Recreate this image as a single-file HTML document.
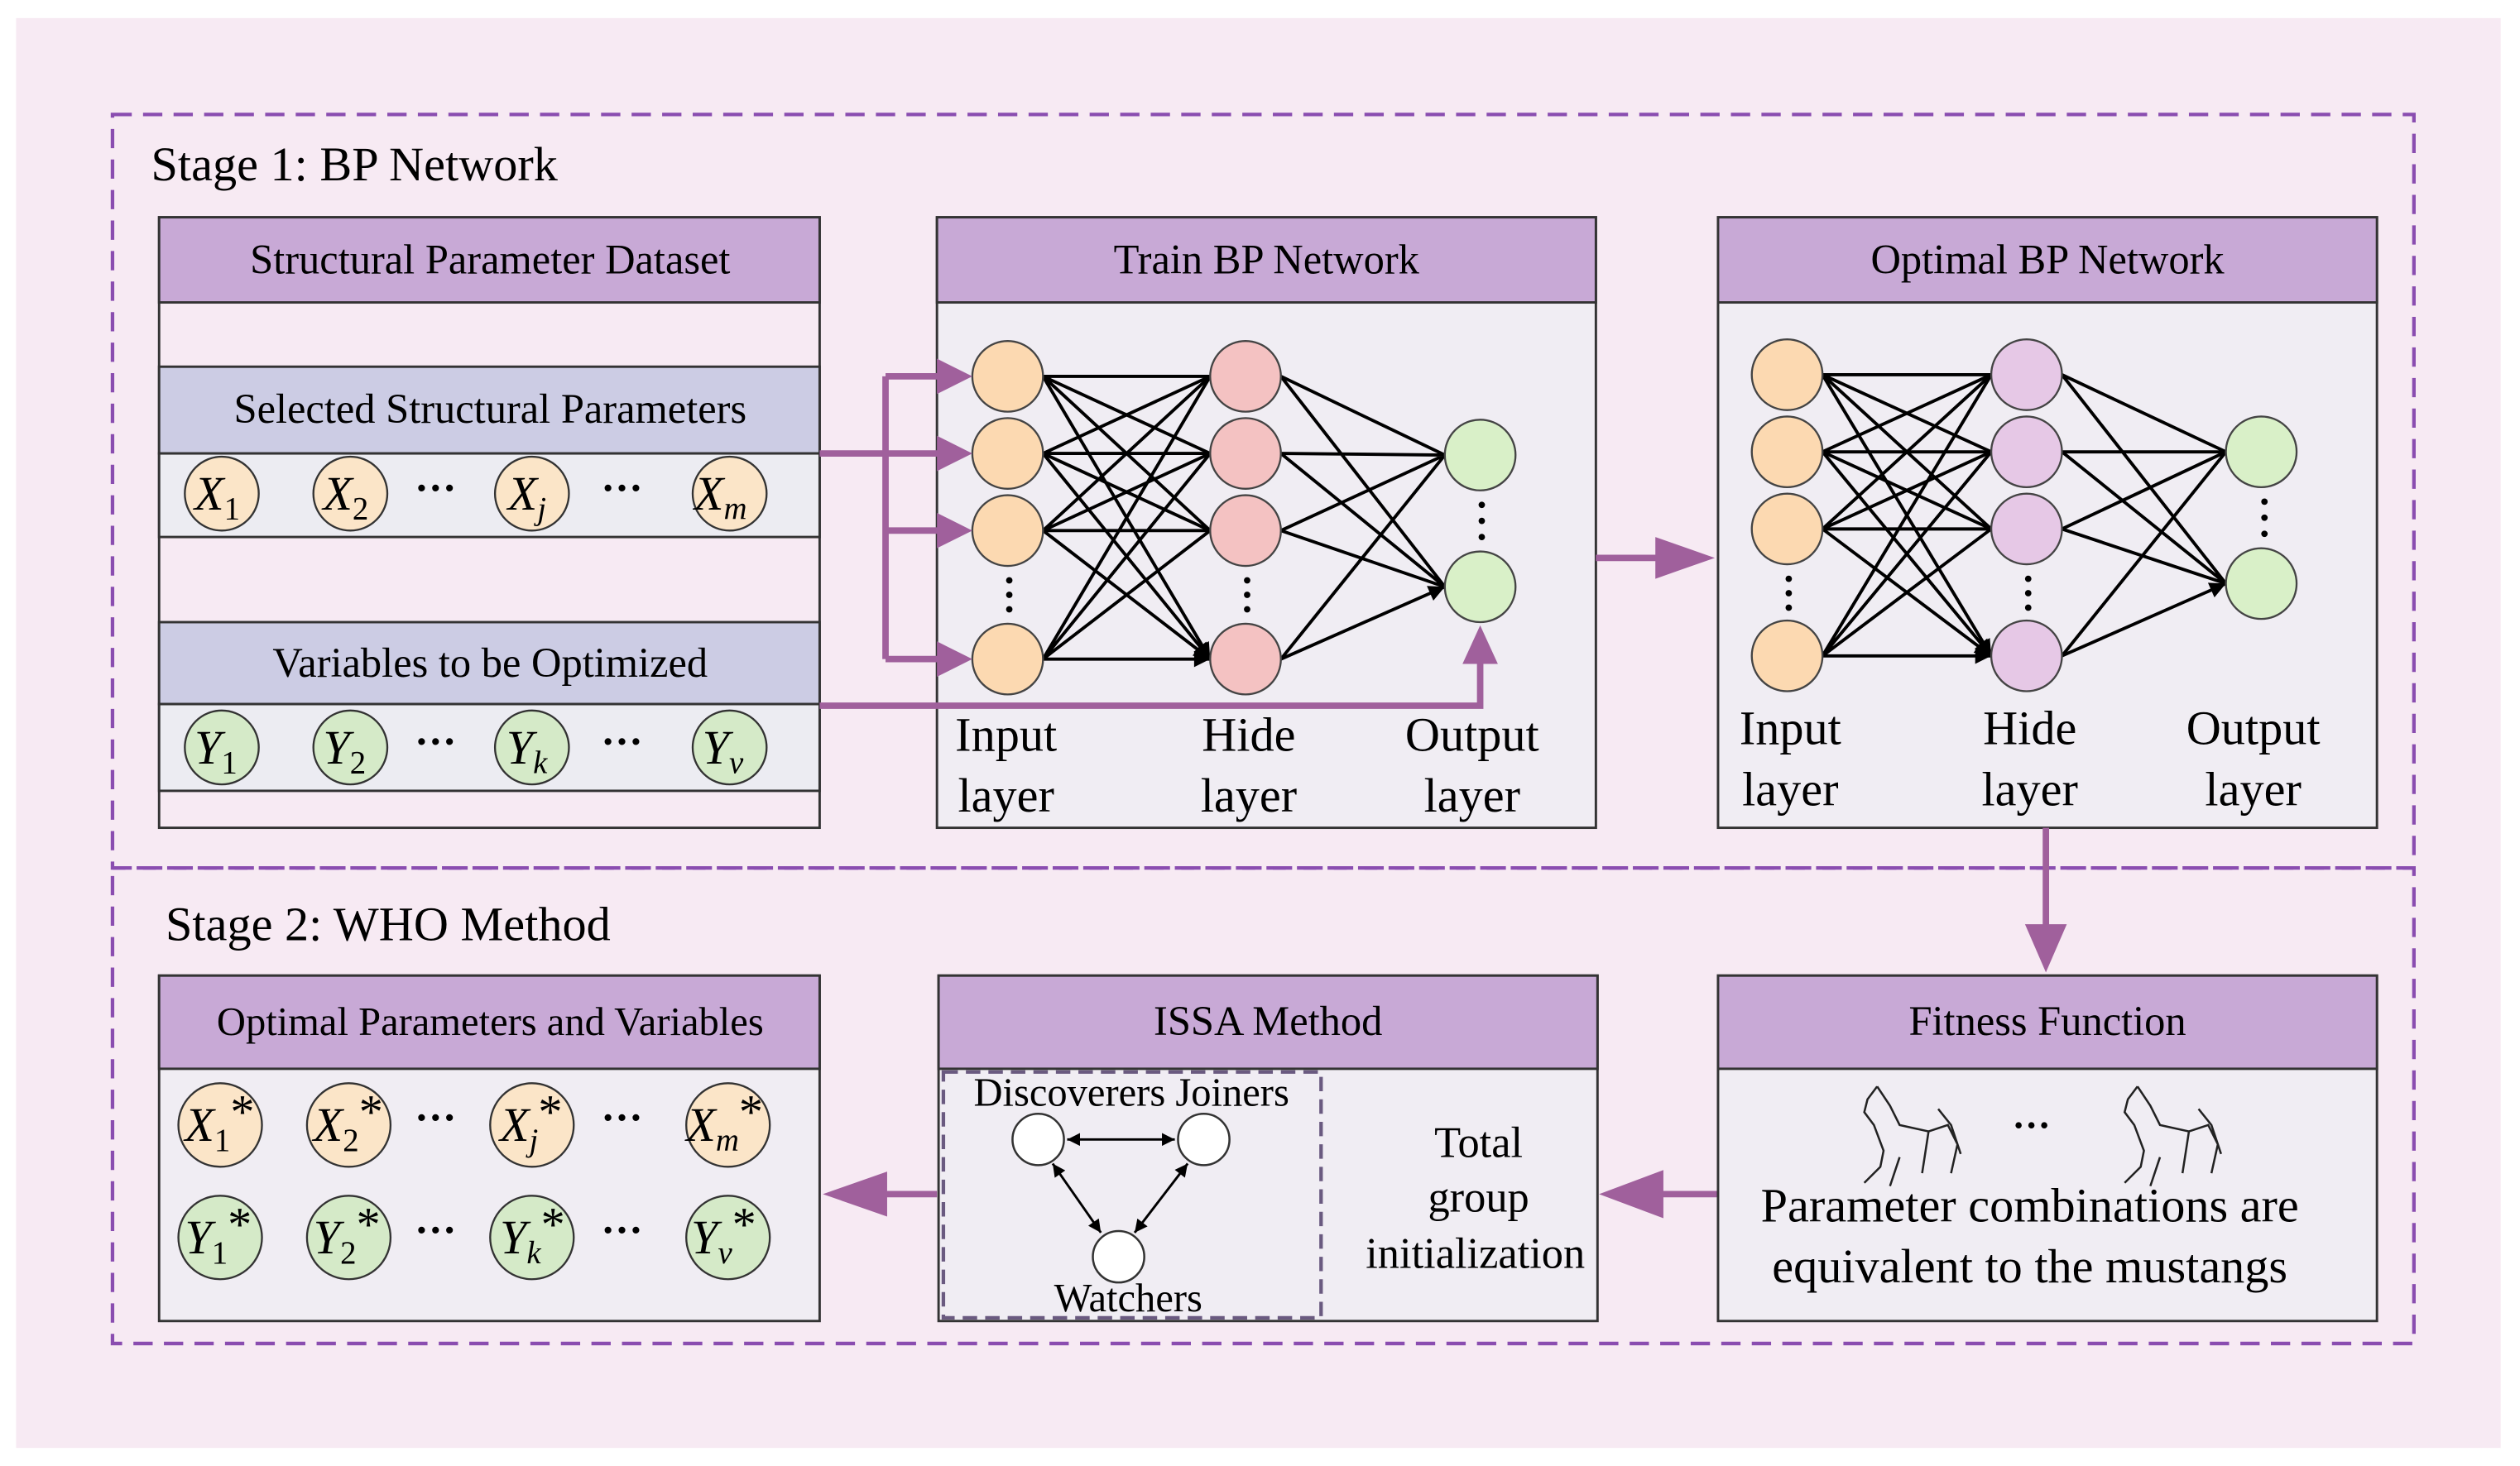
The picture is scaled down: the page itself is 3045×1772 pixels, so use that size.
<!DOCTYPE html>
<html><head><meta charset="utf-8"><style>
html,body{margin:0;padding:0;background:#fff}
svg{display:block;font-family:"Liberation Serif","DejaVu Serif",serif}
svg text{font-family:"Liberation Serif","DejaVu Serif",serif;fill:#000}
</style></head><body>
<svg width="3045" height="1772" viewBox="0 0 1568 912" xmlns="http://www.w3.org/2000/svg" font-family="'Liberation Serif', 'DejaVu Serif', serif">
<defs>
<marker id="ka" viewBox="0 0 10 10" refX="10" refY="5" markerWidth="12" markerHeight="10" orient="auto" markerUnits="userSpaceOnUse"><path d="M0,0 L10,5 L0,10 z" fill="#000"/></marker>
<marker id="ks" viewBox="0 0 10 10" refX="10" refY="5" markerWidth="10" markerHeight="8" orient="auto-start-reverse" markerUnits="userSpaceOnUse"><path d="M0,0 L10,5 L0,10 z" fill="#000"/></marker>
</defs>
<rect x="0" y="0" width="1568" height="912" fill="#fff"/>
<rect x="10" y="11" width="1546" height="890" fill="#f7eaf3"/>
<g fill="none" stroke="#8a4db0" stroke-width="2.2" stroke-dasharray="12,7">
<rect x="70" y="71" width="1432" height="469"/>
<rect x="70" y="540" width="1432" height="296"/>
</g>
<text x="94" y="112" font-size="30">Stage 1: BP Network</text>
<text x="103" y="585" font-size="30">Stage 2: WHO Method</text>

<g stroke="#333" stroke-width="1.5">
<rect x="99" y="135" width="411" height="380" fill="#f7eaf3"/>
<rect x="99" y="135" width="411" height="53" fill="#c8a9d6"/>
<rect x="99" y="228" width="411" height="54" fill="#cccce4"/>
<rect x="99" y="282" width="411" height="52" fill="#ececf2"/>
<rect x="99" y="387" width="411" height="51" fill="#cccce4"/>
<rect x="99" y="438" width="411" height="54" fill="#ececf2"/>
</g>
<text x="305" y="170" font-size="26" text-anchor="middle">Structural Parameter Dataset</text>
<text x="305" y="263" font-size="26" text-anchor="middle">Selected Structural Parameters</text>
<text x="305" y="421" font-size="26" text-anchor="middle">Variables to be Optimized</text>
<g stroke="#333" stroke-width="1.2" fill="#fbe5c8">
<circle cx="138" cy="307" r="23"/><circle cx="218" cy="307" r="23"/><circle cx="331" cy="307" r="23"/><circle cx="454" cy="307" r="23"/>
</g>
<g stroke="#333" stroke-width="1.2" fill="#d5eac8">
<circle cx="138" cy="465" r="23"/><circle cx="218" cy="465" r="23"/><circle cx="331" cy="465" r="23"/><circle cx="454" cy="465" r="23"/>
</g>
<g font-size="30" font-style="italic">
<text x="121" y="317">X<tspan font-size="20" font-style="normal" dy="6">1</tspan></text>
<text x="201" y="317">X<tspan font-size="20" font-style="normal" dy="6">2</tspan></text>
<text x="316" y="317">X<tspan font-size="20" dy="6">j</tspan></text>
<text x="432" y="317">X<tspan font-size="20" dy="6">m</tspan></text>
<text x="121" y="475">Y<tspan font-size="20" font-style="normal" dy="6">1</tspan></text>
<text x="201" y="475">Y<tspan font-size="20" font-style="normal" dy="6">2</tspan></text>
<text x="315" y="475">Y<tspan font-size="20" dy="6">k</tspan></text>
<text x="437" y="475">Y<tspan font-size="20" dy="6">v</tspan></text>
</g>
<g font-size="26" font-weight="bold">
<text x="258" y="312">···</text><text x="374" y="312">···</text>
<text x="258" y="470">···</text><text x="374" y="470">···</text>
</g>

<g stroke="#333" stroke-width="1.5">
<rect x="583" y="135" width="410" height="380" fill="#f0edf3"/>
<rect x="583" y="135" width="410" height="53" fill="#c8a9d6"/>
<rect x="1069" y="135" width="410" height="380" fill="#f0edf3"/>
<rect x="1069" y="135" width="410" height="53" fill="#c8a9d6"/>
</g>
<text x="788" y="170" font-size="26" text-anchor="middle">Train BP Network</text>
<text x="1274" y="170" font-size="26" text-anchor="middle">Optimal BP Network</text>

<g stroke="#000" stroke-width="2" marker-end="url(#ka)">
<path d="M649,234 L753,234 M649,234 L753,282 M649,234 L753,330 M649,234 L753,410"/>
<path d="M649,282 L753,234 M649,282 L753,282 M649,282 L753,330 M649,282 L753,410"/>
<path d="M649,330 L753,234 M649,330 L753,282 M649,330 L753,330 M649,330 L753,410"/>
<path d="M649,410 L753,234 M649,410 L753,282 M649,410 L753,330 M649,410 L753,410"/>
<path d="M797,234 L899,283 M797,234 L899,365 M797,282 L899,283 M797,282 L899,365 M797,330 L899,283 M797,330 L899,365 M797,410 L899,283 M797,410 L899,365"/>
</g>
<g stroke="#444" stroke-width="1.2">
<g fill="#fcd9b1"><circle cx="627" cy="234" r="22"/><circle cx="627" cy="282" r="22"/><circle cx="627" cy="330" r="22"/><circle cx="627" cy="410" r="22"/></g>
<g fill="#f4c2c2"><circle cx="775" cy="234" r="22"/><circle cx="775" cy="282" r="22"/><circle cx="775" cy="330" r="22"/><circle cx="775" cy="410" r="22"/></g>
<g fill="#d9f0c8"><circle cx="921" cy="283" r="22"/><circle cx="921" cy="365" r="22"/></g>
</g>
<g fill="#000"><circle cx="628" cy="361" r="2"/><circle cx="628" cy="370" r="2"/><circle cx="628" cy="379" r="2"/>
<circle cx="776" cy="361" r="2"/><circle cx="776" cy="370" r="2"/><circle cx="776" cy="379" r="2"/>
<circle cx="922" cy="314" r="2"/><circle cx="922" cy="324" r="2"/><circle cx="922" cy="334" r="2"/></g>
<g font-size="30" text-anchor="middle">
<text x="626" y="467">Input</text><text x="626" y="505">layer</text>
<text x="777" y="467">Hide</text><text x="777" y="505">layer</text>
<text x="916" y="467">Output</text><text x="916" y="505">layer</text>
</g>

<g stroke="#000" stroke-width="2" marker-end="url(#ka)">
<path d="M1134,233 L1239,233 M1134,233 L1239,281 M1134,233 L1239,329 M1134,233 L1239,408"/>
<path d="M1134,281 L1239,233 M1134,281 L1239,281 M1134,281 L1239,329 M1134,281 L1239,408"/>
<path d="M1134,329 L1239,233 M1134,329 L1239,281 M1134,329 L1239,329 M1134,329 L1239,408"/>
<path d="M1134,408 L1239,233 M1134,408 L1239,281 M1134,408 L1239,329 M1134,408 L1239,408"/>
<path d="M1283,233 L1385,281 M1283,233 L1385,363 M1283,281 L1385,281 M1283,281 L1385,363 M1283,329 L1385,281 M1283,329 L1385,363 M1283,408 L1385,281 M1283,408 L1385,363"/>
</g>
<g stroke="#444" stroke-width="1.2">
<g fill="#fcd9b1"><circle cx="1112" cy="233" r="22"/><circle cx="1112" cy="281" r="22"/><circle cx="1112" cy="329" r="22"/><circle cx="1112" cy="408" r="22"/></g>
<g fill="#e6c8e6"><circle cx="1261" cy="233" r="22"/><circle cx="1261" cy="281" r="22"/><circle cx="1261" cy="329" r="22"/><circle cx="1261" cy="408" r="22"/></g>
<g fill="#d9f0c8"><circle cx="1407" cy="281" r="22"/><circle cx="1407" cy="363" r="22"/></g>
</g>
<g fill="#000"><circle cx="1113" cy="360" r="2"/><circle cx="1113" cy="369" r="2"/><circle cx="1113" cy="378" r="2"/>
<circle cx="1262" cy="360" r="2"/><circle cx="1262" cy="369" r="2"/><circle cx="1262" cy="378" r="2"/>
<circle cx="1409" cy="312" r="2"/><circle cx="1409" cy="322" r="2"/><circle cx="1409" cy="332" r="2"/></g>
<g font-size="30" text-anchor="middle">
<text x="1114" y="463">Input</text><text x="1114" y="501">layer</text>
<text x="1263" y="463">Hide</text><text x="1263" y="501">layer</text>
<text x="1402" y="463">Output</text><text x="1402" y="501">layer</text>
</g>

<g stroke="#a0609c" stroke-width="4" fill="none">
<path d="M510,282 L590,282"/>
<path d="M551,234 L551,410"/>
<path d="M551,234 L588,234 M551,330 L588,330 M551,410 L588,410"/>
<path d="M510,439 L921,439 L921,408"/>
<path d="M993,347 L1040,347"/>
<path d="M1273,515 L1273,580"/>
<path d="M1069,743 L1030,743"/>
<path d="M583,743 L545,743"/>
<path d="M862,731 L840,731" stroke-width="2.5"/>
</g>
<g fill="#a0609c">
<path d="M605,234 L583,223 L583,245z"/>
<path d="M605,282 L583,271 L583,293z"/>
<path d="M605,330 L583,319 L583,341z"/>
<path d="M605,410 L583,399 L583,421z"/>
<path d="M921,389 L910,413 L932,413z"/>
<path d="M1067,347 L1030,334 L1030,360z"/>
<path d="M1273,605 L1260,575 L1286,575z"/>
<path d="M995,743 L1035,728 L1035,758z"/>
<path d="M512,743 L552,729 L552,757z"/>
<path d="M823,731 L842,723 L842,739z"/>
</g>

<g stroke="#333" stroke-width="1.5">
<rect x="99" y="607" width="411" height="215" fill="#f0edf3"/>
<rect x="99" y="607" width="411" height="58" fill="#c8a9d6"/>
<rect x="584" y="607" width="410" height="215" fill="#f0edf3"/>
<rect x="584" y="607" width="410" height="58" fill="#c8a9d6"/>
<rect x="1069" y="607" width="410" height="215" fill="#f0edf3"/>
<rect x="1069" y="607" width="410" height="58" fill="#c8a9d6"/>
</g>
<text x="305" y="644" font-size="25" text-anchor="middle">Optimal Parameters and Variables</text>
<text x="789" y="644" font-size="26" text-anchor="middle">ISSA Method</text>
<text x="1274" y="644" font-size="26" text-anchor="middle">Fitness Function</text>

<g stroke="#333" stroke-width="1.2" fill="#fbe5c8">
<circle cx="137" cy="700" r="26"/><circle cx="217" cy="700" r="26"/><circle cx="331" cy="700" r="26"/><circle cx="453" cy="700" r="26"/>
</g>
<g stroke="#333" stroke-width="1.2" fill="#d5eac8">
<circle cx="137" cy="770" r="26"/><circle cx="217" cy="770" r="26"/><circle cx="331" cy="770" r="26"/><circle cx="453" cy="770" r="26"/>
</g>
<g font-size="30" font-style="italic">
<text x="115" y="710">X<tspan font-size="20" font-style="normal" dy="6">1</tspan><tspan dy="-14" font-style="normal">*</tspan></text>
<text x="195" y="710">X<tspan font-size="20" font-style="normal" dy="6">2</tspan><tspan dy="-14" font-style="normal">*</tspan></text>
<text x="311" y="710">X<tspan font-size="20" dy="6">j</tspan><tspan dy="-14" font-style="normal">*</tspan></text>
<text x="427" y="710">X<tspan font-size="20" dy="6">m</tspan><tspan dy="-14" font-style="normal">*</tspan></text>
<text x="115" y="780">Y<tspan font-size="20" font-style="normal" dy="6">1</tspan><tspan dy="-14" font-style="normal">*</tspan></text>
<text x="195" y="780">Y<tspan font-size="20" font-style="normal" dy="6">2</tspan><tspan dy="-14" font-style="normal">*</tspan></text>
<text x="311" y="780">Y<tspan font-size="20" dy="6">k</tspan><tspan dy="-14" font-style="normal">*</tspan></text>
<text x="430" y="780">Y<tspan font-size="20" dy="6">v</tspan><tspan dy="-14" font-style="normal">*</tspan></text>
</g>
<g font-size="26" font-weight="bold">
<text x="258" y="704">···</text><text x="374" y="704">···</text>
<text x="258" y="774">···</text><text x="374" y="774">···</text>
</g>

<rect x="587" y="667" width="235" height="153" fill="none" stroke="#6a5a80" stroke-width="2.2" stroke-dasharray="9,5"/>
<text x="704" y="688" font-size="25" text-anchor="middle">Discoverers Joiners</text>
<text x="702" y="816" font-size="25" text-anchor="middle">Watchers</text>
<g stroke="#000" stroke-width="1.5">
<path d="M664,709 L731,709" marker-end="url(#ks)" marker-start="url(#ks)"/>
<path d="M655,724 L685,767" marker-end="url(#ks)" marker-start="url(#ks)"/>
<path d="M739,724 L706,767" marker-end="url(#ks)" marker-start="url(#ks)"/>
</g>
<g stroke="#333" stroke-width="1.3" fill="#fff">
<circle cx="646" cy="709" r="16"/><circle cx="749" cy="709" r="16"/><circle cx="696" cy="782" r="16"/>
</g>
<g font-size="27" text-anchor="middle">
<text x="920" y="720">Total</text><text x="920" y="754">group</text><text x="918" y="789">initialization</text>
</g>

<g fill="none" stroke="#222" stroke-width="1.3">
<g id="h1">
<path d="M1168,676 L1162,684 L1160,692 L1166,700 L1172,716 L1170,726 L1160,736 M1168,676 L1176,688 L1182,700 L1200,704 L1212,700 L1218,712 L1214,730 M1200,704 L1196,730 M1182,720 L1176,738 M1206,690 L1214,700 L1220,718"/>
</g>
<use href="#h1" transform="translate(162,0)"/>
</g>
<text x="1264" y="708" font-size="24" font-weight="bold" text-anchor="middle">···</text>
<g font-size="30" text-anchor="middle">
<text x="1263" y="760">Parameter combinations are</text>
<text x="1263" y="798">equivalent to the mustangs</text>
</g>
</svg>
</body></html>
